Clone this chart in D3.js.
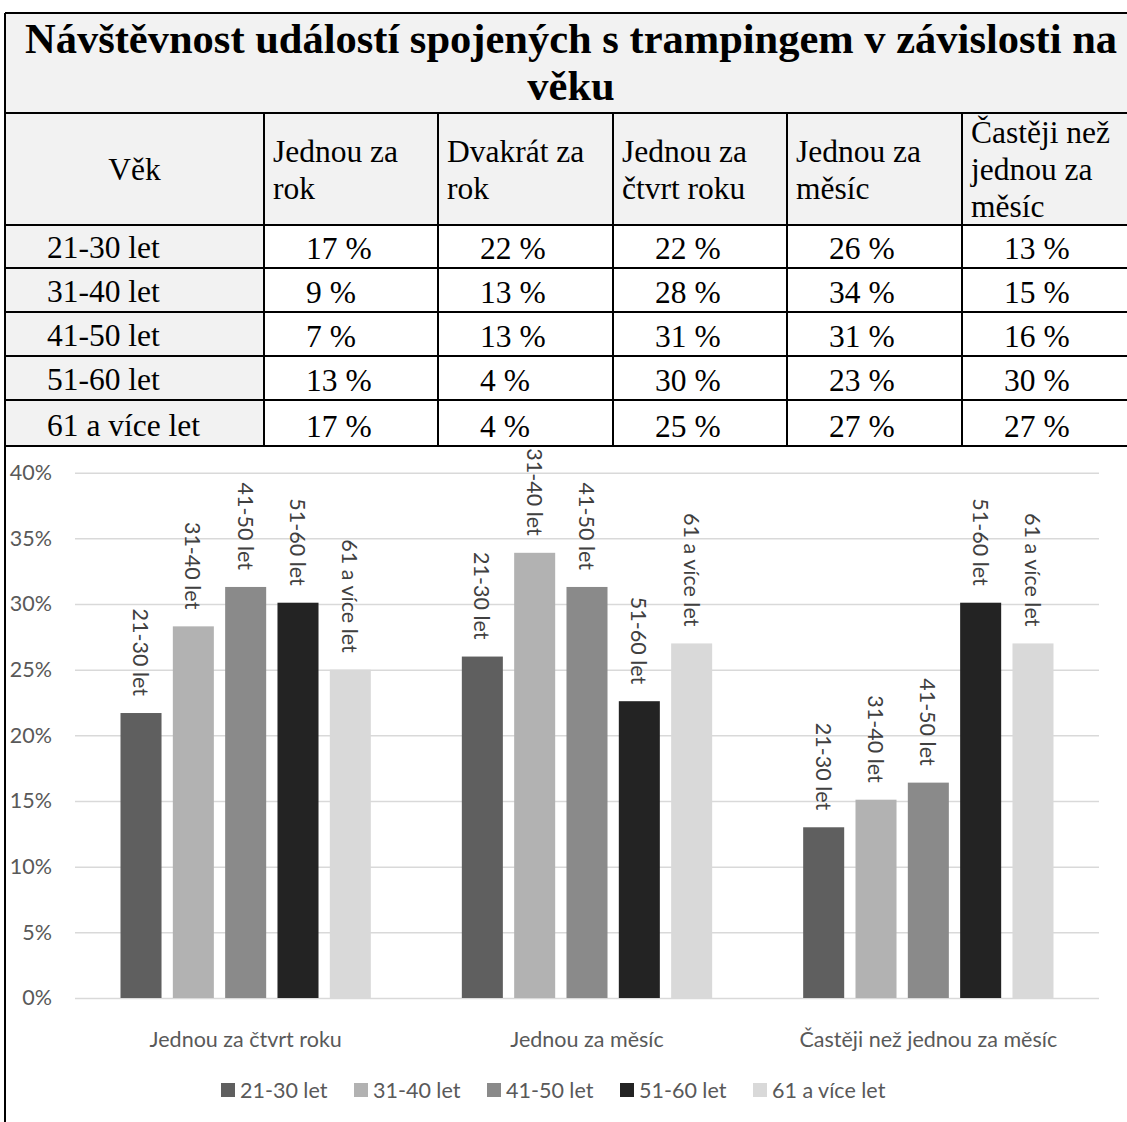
<!DOCTYPE html>
<html>
<head>
<meta charset="utf-8">
<script src="https://cdn.jsdelivr.net/npm/d3@7"></script>
<style>
    body { margin: 0; background: #fff; }
    svg { display: block; }
</style>
</head>
<body>
<svg id="svg_main" width="1127" height="1122"></svg>
<script>
// tabulka
let title_lines = ['Návštěvnost událostí spojených s trampingem v závislosti na', 'věku'];
let head_lines = [['Věk'], ['Jednou za', 'rok'], ['Dvakrát za', 'rok'], ['Jednou za', 'čtvrt roku'], ['Jednou za', 'měsíc'], ['Častěji než', 'jednou za', 'měsíc']];
let ages = ['21-30 let', '31-40 let', '41-50 let', '51-60 let', '61 a více let'];
let table_values = [
    [17, 22, 22, 26, 13],
    [9, 13, 28, 34, 15],
    [7, 13, 31, 31, 16],
    [13, 4, 30, 23, 30],
    [17, 4, 25, 27, 27]
];

// graf
let categories = ['Jednou za čtvrt roku', 'Jednou za měsíc', 'Častěji než jednou za měsíc'];
let series_values = [
    [21.7, 26.0, 13.0],
    [28.3, 33.9, 15.1],
    [31.3, 31.3, 16.4],
    [30.1, 22.6, 30.1],
    [25.0, 27.0, 27.0]
];
let series_colors = ['#5f5f5f', '#b2b2b2', '#8a8a8a', '#232323', '#d9d9d9'];
let y_ticks = [0, 5, 10, 15, 20, 25, 30, 35, 40];

let svg = d3.select('#svg_main');
let serif = "'Liberation Serif', 'Times New Roman', serif";
let sans = "Lato, 'Open Sans', sans-serif";

let col_x = [5, 264, 438, 613, 787, 962, 1137];
let row_y = [13, 113, 225, 268, 312, 356, 400, 446];

//pozadi bunek
let bg = svg.append('g');
bg.append('rect').attr('x', col_x[0]).attr('y', row_y[0]).attr('width', col_x[6] - col_x[0]).attr('height', row_y[2] - row_y[0]).attr('fill', '#f2f2f2');
bg.append('rect').attr('x', col_x[0]).attr('y', row_y[2]).attr('width', col_x[1] - col_x[0]).attr('height', row_y[7] - row_y[2]).attr('fill', '#f2f2f2');

//car
let grid = svg.append('g').attr('stroke', '#000').attr('stroke-width', 2);
grid.selectAll('.h').data(row_y).enter()
    .append('line')
    .attr('x1', col_x[0]).attr('x2', col_x[6])
    .attr('y1', d => d).attr('y2', d => d);
grid.selectAll('.v').data(col_x.slice(1)).enter()
    .append('line')
    .attr('x1', d => d).attr('x2', d => d)
    .attr('y1', (d, i) => i == 5 ? row_y[0] : row_y[1])
    .attr('y2', row_y[7]);
grid.append('line').attr('x1', col_x[0]).attr('x2', col_x[0]).attr('y1', row_y[0]).attr('y2', 1122);

//nadpis
svg.append('g').selectAll('text').data(title_lines).enter()
    .append('text')
    .attr('x', (col_x[0] + col_x[6]) / 2)
    .attr('y', (d, i) => 53 + i * 47)
    .attr('text-anchor', 'middle')
    .attr('font-family', serif)
    .attr('font-weight', 'bold')
    .attr('font-size', 42.5)
    .text(d => d);

//hlavicka
let head = svg.append('g').attr('font-family', serif).attr('font-size', 31.5);
head_lines.forEach((lines, i) => {
    head.selectAll(null).data(lines).enter()
        .append('text')
        .attr('x', i == 0 ? (col_x[0] + col_x[1]) / 2 : col_x[i] + 9)
        .attr('y', (d, j) => 180 + (j - (lines.length - 1) / 2) * 37)
        .attr('text-anchor', i == 0 ? 'middle' : 'start')
        .text(d => d);
});

//radky
let body = svg.append('g').attr('font-family', serif).attr('font-size', 31.5);
ages.forEach((age, i) => {
    body.append('text')
        .attr('x', 47)
        .attr('y', row_y[i + 3] - 10)
        .text(age);
    body.selectAll(null).data(table_values[i]).enter()
        .append('text')
        .attr('x', (d, j) => col_x[j + 1] + 42)
        .attr('y', row_y[i + 3] - 9)
        .text(d => d + ' %');
});

//sloupcovy graf
let x0 = d3.scaleBand().domain(categories).range([75, 1099]);
let x1 = d3.scaleBand().domain(ages).range([45.5, x0.bandwidth() - 45.5]).paddingInner(0.216);
let y = d3.scaleLinear().domain([0, 40]).range([998, 472.7]);

svg.append('g')
    .attr('transform', 'translate(75,0)')
    .call(d3.axisLeft(y).tickValues(y_ticks).tickSize(-1024).tickPadding(23).tickFormat(d => d + '%'))
    .call(g => g.select('.domain').remove())
    .call(g => g.selectAll('line').attr('stroke', '#d9d9d9').attr('stroke-width', 1.5))
    .call(g => g.selectAll('text').attr('fill', '#595959'))
    .attr('font-family', sans)
    .attr('font-size', 21.5);

let bars = svg.append('g');
ages.forEach((age, i) => {
    bars.selectAll(null).data(series_values[i]).enter()
        .append('rect')
        .attr('x', (d, j) => x0(categories[j]) + x1(age))
        .attr('y', d => y(d))
        .attr('width', x1.bandwidth())
        .attr('height', d => y(0) - y(d))
        .attr('fill', series_colors[i]);
    bars.selectAll(null).data(series_values[i]).enter()
        .append('text')
        .attr('transform', (d, j) => 'translate(' + (x0(categories[j]) + x1(age) + x1.bandwidth() / 2) + ',' + (y(d) - 17) + ') rotate(90)')
        .attr('text-anchor', 'end')
        .attr('dominant-baseline', 'central')
        .attr('font-family', sans)
        .attr('font-size', 21.5)
        .attr('fill', '#404040')
        .text(age);
});

svg.append('g')
    .attr('transform', 'translate(0,998)')
    .call(d3.axisBottom(x0).tickSize(0).tickPadding(34))
    .call(g => g.select('.domain').remove())
    .call(g => g.selectAll('text').attr('fill', '#595959'))
    .attr('font-family', sans)
    .attr('font-size', 21.5);

//legenda
let legend = svg.append('g').selectAll('g').data(ages).enter()
    .append('g')
    .attr('transform', (d, i) => 'translate(' + (221 + i * 133) + ',1090)');
legend.append('rect')
    .attr('x', 0).attr('y', -7)
    .attr('width', 14).attr('height', 14)
    .attr('fill', (d, i) => series_colors[i]);
legend.append('text')
    .attr('x', 19)
    .attr('dominant-baseline', 'central')
    .attr('font-family', sans)
    .attr('font-size', 21.5)
    .attr('fill', '#595959')
    .text(d => d);
</script>
</body>
</html>
